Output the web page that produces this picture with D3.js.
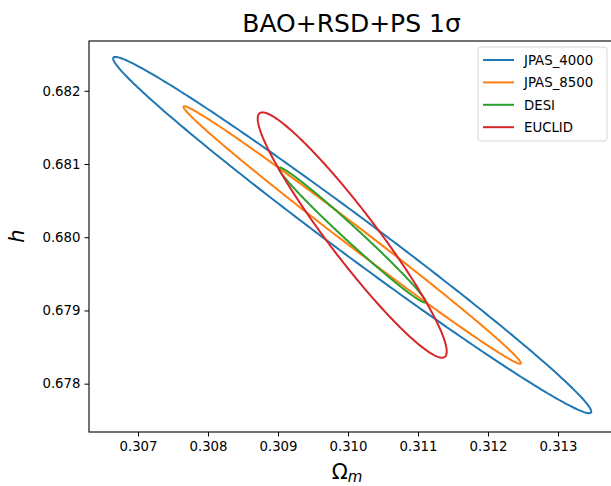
<!DOCTYPE html>
<html>
<head>
<script src="https://d3js.org/d3.v7.min.js"></script>
<style>
  body { margin: 0; background: white; }
  text { font-family: "DejaVu Sans", sans-serif; }
</style>
</head>
<body>
<svg class="target"></svg>
<script>

// survey forecasts: centre + half extents (1 sigma) + correlation
names   = ['JPAS_4000', 'JPAS_8500', 'DESI', 'EUCLID']
colors  = ['#1f77b4', '#ff7f0e', '#2ca02c', '#d62728']
omCen   = [0.31006, 0.31006, 0.31006, 0.31006]
hCen    = [0.68003, 0.68003, 0.68003, 0.68003]
omHalf  = [0.003415, 0.002410, 0.001050, 0.001350]
hHalf   = [0.002433, 0.001759, 0.000923, 0.001675]
rho     = [-0.9907, -0.9952, -0.989, -0.949]

xTicks  = [0.307, 0.308, 0.309, 0.310, 0.311, 0.312, 0.313]
yTicks  = [0.678, 0.679, 0.680, 0.681, 0.682]
xLim    = [0.30630, 0.31380]
yLim    = [0.67734, 0.68268]

width = 611
height = 486
margin = ({top: 41, right: -3, bottom: 54, left: 89})

svg = d3.select('.target')
      .attr('width', width)
      .attr('height', height)

x = d3.scaleLinear().domain(xLim).range([margin.left, width - margin.right])
y = d3.scaleLinear().domain(yLim).range([height - margin.bottom, margin.top])

// ellipses
line = d3.line().x(d => x(d[0])).y(d => y(d[1])).curve(d3.curveLinearClosed)

data = names.map((n, i) => {
  pts = d3.range(0, 360, 1).map(a => {
    t = a * Math.PI / 180
    return [omCen[i] + omHalf[i] * Math.cos(t),
            hCen[i] + hHalf[i] * (rho[i] * Math.cos(t) + Math.sqrt(1 - rho[i] * rho[i]) * Math.sin(t))]
  })
  return {name: n, color: colors[i], pts: pts}
})

svg.append('defs').append('clipPath').attr('id', 'clip')
  .append('rect')
    .attr('x', margin.left).attr('y', margin.top)
    .attr('width', width - margin.right - margin.left)
    .attr('height', height - margin.bottom - margin.top)

svg.append('g').attr('clip-path', 'url(#clip)')
  .selectAll('path')
  .data(data)
  .join('path')
    .attr('d', d => line(d.pts))
    .attr('fill', 'none')
    .attr('stroke', d => d.color)
    .attr('stroke-width', 2)

// axes
xAxis = svg.append('g')
    .attr('transform', `translate(0,${height - margin.bottom})`)
    .call(d3.axisBottom(x).tickValues(xTicks).tickFormat(d3.format('.3f')).tickSizeOuter(0).tickSize(4.5).tickPadding(5))
yAxis = svg.append('g')
    .attr('transform', `translate(${margin.left},0)`)
    .call(d3.axisLeft(y).tickValues(yTicks).tickFormat(d3.format('.3f')).tickSizeOuter(0).tickSize(4.5).tickPadding(4))

svg.selectAll('.tick text')
    .style('font-size', '13.3px')
    .style('font-family', '"DejaVu Sans", sans-serif')
    .attr('fill', '#000')
svg.selectAll('.domain').remove()

// frame
svg.append('rect')
    .attr('x', margin.left).attr('y', margin.top)
    .attr('width', width - margin.right - margin.left)
    .attr('height', height - margin.bottom - margin.top)
    .attr('fill', 'none').attr('stroke', '#000').attr('stroke-width', 1.1)

// title + labels
svg.append('text')
    .attr('x', (margin.left + width - margin.right) / 2).attr('y', 32)
    .attr('text-anchor', 'middle')
    .style('font-size', '25px')
    .text('BAO+RSD+PS 1σ')

xl = svg.append('text')
    .attr('x', 347).attr('y', 479)
    .attr('text-anchor', 'middle')
    .style('font-size', '21px')
xl.append('tspan').text('Ω')
xl.append('tspan').attr('dy', 3).style('font-size', '15px').style('font-style', 'italic').text('m')

svg.append('text')
    .attr('transform', `translate(24,236) rotate(-90)`)
    .attr('text-anchor', 'middle')
    .style('font-size', '21px')
    .style('font-style', 'italic')
    .text('h')

// legend
leg = svg.append('g').attr('transform', 'translate(478,47)')
leg.append('rect')
    .attr('width', 129).attr('height', 94).attr('rx', 3)
    .attr('fill', 'white').attr('stroke', '#d6d6d6').attr('stroke-width', 1)
item = leg.selectAll('g.item')
    .data(data)
    .join('g')
      .attr('class', 'item')
      .attr('transform', (d, i) => `translate(0,${13 + 22.4 * i})`)
item.append('line')
    .attr('x1', 5).attr('x2', 36)
    .attr('stroke', d => d.color).attr('stroke-width', 2)
item.append('text')
    .attr('x', 46).attr('y', 4.7)
    .style('font-size', '13.3px')
    .text(d => d.name)

</script>
</body>
</html>
